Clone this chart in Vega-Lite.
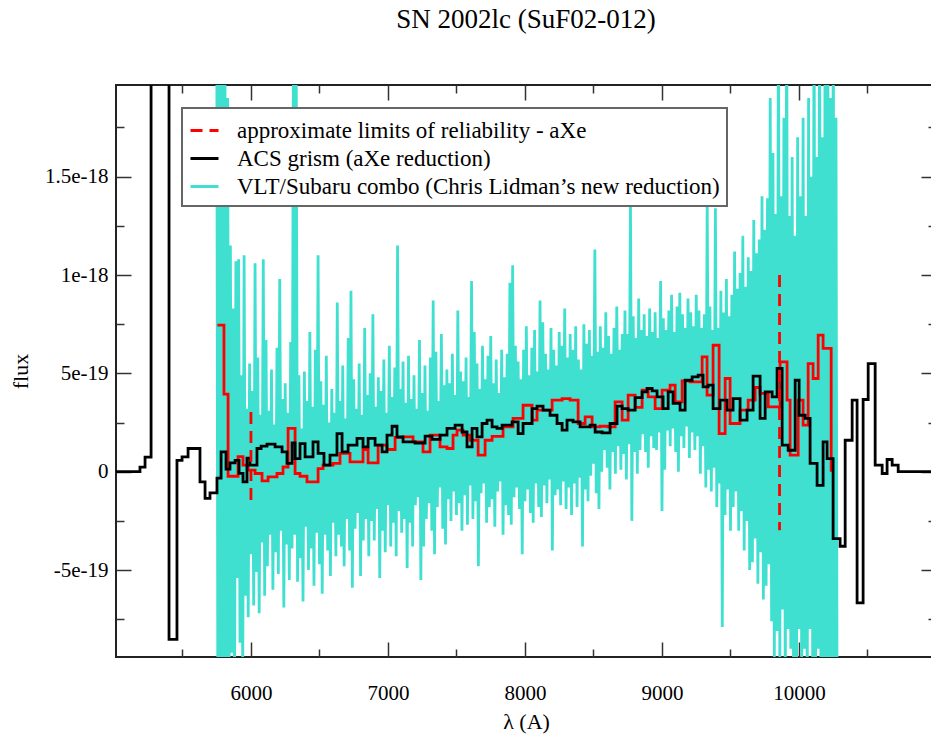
{
"$schema":"https://vega.github.io/schema/vega-lite/v6.json",
"width":820,"height":572,
"autosize":"none",
"padding":{"left":116,"top":85,"right":0,"bottom":79},
"background":"white",
"title":{"text":"SN 2002lc (SuF02-012)","font":"Liberation Serif","fontSize":27,"fontWeight":"normal","color":"black","anchor":"middle","frame":"group","offset":50},
"config":{"view":{"stroke":"#222","strokeWidth":2},"font":"Liberation Serif",
"legend":{"strokeWidth":2}},
"resolve":{"axis":{"x":"independent","y":"independent"}},
"datasets":{
"lim":[{"w":6000,"f1":3.03e-19,"f2":-1.45e-19},{"w":9858,"f1":1.0e-18,"f2":-2.98e-19}],
"red":[{"w":5755,"f":7.45e-19},{"w":5803,"f":3.94e-19},{"w":5833,"f":-0.23e-19},{"w":5906,"f":0.77e-19},{"w":5942,"f":0.33e-19},{"w":5979,"f":0.08e-19},{"w":6030,"f":-0.09e-19},{"w":6081,"f":-0.47e-19},{"w":6125,"f":-0.26e-19},{"w":6190,"f":-0.09e-19},{"w":6234,"f":0.24e-19},{"w":6271,"f":2.2e-19},{"w":6322,"f":-0.09e-19},{"w":6358,"f":-0.23e-19},{"w":6409,"f":-0.52e-19},{"w":6490,"f":0.16e-19},{"w":6526,"f":0.33e-19},{"w":6599,"f":0.42e-19},{"w":6650,"f":0.93e-19},{"w":6723,"f":0.5e-19},{"w":6818,"f":1.13e-19},{"w":6855,"f":0.45e-19},{"w":6928,"f":1.35e-19},{"w":6993,"f":1.13e-19},{"w":7052,"f":1.74e-19},{"w":7110,"f":1.77e-19},{"w":7183,"f":1.52e-19},{"w":7256,"f":1.01e-19},{"w":7307,"f":1.86e-19},{"w":7380,"f":1.26e-19},{"w":7431,"f":1.18e-19},{"w":7475,"f":1.86e-19},{"w":7504,"f":2.11e-19},{"w":7548,"f":1.86e-19},{"w":7599,"f":1.6e-19},{"w":7658,"f":0.84e-19},{"w":7709,"f":1.6e-19},{"w":7760,"f":1.8e-19},{"w":7840,"f":2.28e-19},{"w":7913,"f":2.71e-19},{"w":7986,"f":3.38e-19},{"w":8052,"f":2.62e-19},{"w":8088,"f":3.13e-19},{"w":8198,"f":3.64e-19},{"w":8271,"f":3.72e-19},{"w":8329,"f":3.64e-19},{"w":8388,"f":2.45e-19},{"w":8439,"f":2.79e-19},{"w":8490,"f":2.28e-19},{"w":8548,"f":2.31e-19},{"w":8607,"f":2.28e-19},{"w":8658,"f":3.55e-19},{"w":8709,"f":2.62e-19},{"w":8753,"f":3.89e-19},{"w":8804,"f":3.27e-19},{"w":8855,"f":4.15e-19},{"w":8899,"f":3.8e-19},{"w":8950,"f":3.21e-19},{"w":9001,"f":4.15e-19},{"w":9059,"f":4.4e-19},{"w":9096,"f":3.55e-19},{"w":9147,"f":4.62e-19},{"w":9205,"f":4.57e-19},{"w":9293,"f":5.84e-19},{"w":9329,"f":3.89e-19},{"w":9373,"f":6.43e-19},{"w":9417,"f":1.94e-19},{"w":9461,"f":4.74e-19},{"w":9497,"f":2.45e-19},{"w":9570,"f":3.13e-19},{"w":9629,"f":3.64e-19},{"w":9680,"f":4.28e-19},{"w":9716,"f":3.98e-19},{"w":9775,"f":3.3e-19},{"w":9862,"f":5.58e-19},{"w":9913,"f":3.64e-19},{"w":9935,"f":0.84e-19},{"w":9994,"f":3.64e-19},{"w":10030,"f":2.37e-19},{"w":10067,"f":5.5e-19},{"w":10103,"f":4.74e-19},{"w":10140,"f":6.94e-19},{"w":10176,"f":6.27e-19},{"w":10235,"f":0}],
"acs":[{"w":5000,"f":0},{"w":5190,"f":0.23e-19},{"w":5227,"f":0.74e-19},{"w":5271,"f":30e-19},{"w":5402,"f":-8.52e-19},{"w":5460,"f":0.58e-19},{"w":5497,"f":0.75e-19},{"w":5541,"f":1.18e-19},{"w":5628,"f":-0.52e-19},{"w":5665,"f":-1.36e-19},{"w":5701,"f":-1.08e-19},{"w":5752,"f":-0.33e-19},{"w":5782,"f":1.01e-19},{"w":5818,"f":0.13e-19},{"w":5847,"f":0.45e-19},{"w":5884,"f":0.58e-19},{"w":5913,"f":-0.08e-19},{"w":5942,"f":-0.52e-19},{"w":5971,"f":0.69e-19},{"w":5993,"f":0.33e-19},{"w":6044,"f":1.18e-19},{"w":6074,"f":1.3e-19},{"w":6117,"f":1.4e-19},{"w":6176,"f":1.26e-19},{"w":6227,"f":1.01e-19},{"w":6263,"f":0.42e-19},{"w":6300,"f":1.46e-19},{"w":6322,"f":0.67e-19},{"w":6358,"f":1.43e-19},{"w":6395,"f":0.75e-19},{"w":6453,"f":1.52e-19},{"w":6490,"f":0.93e-19},{"w":6533,"f":0.33e-19},{"w":6577,"f":0.84e-19},{"w":6628,"f":1.94e-19},{"w":6665,"f":1.01e-19},{"w":6709,"f":1.35e-19},{"w":6774,"f":1.69e-19},{"w":6818,"f":1.26e-19},{"w":6855,"f":1.69e-19},{"w":6906,"f":1.35e-19},{"w":6957,"f":1.01e-19},{"w":6993,"f":1.86e-19},{"w":7030,"f":2.31e-19},{"w":7066,"f":1.77e-19},{"w":7110,"f":1.52e-19},{"w":7198,"f":1.46e-19},{"w":7271,"f":1.81e-19},{"w":7322,"f":1.64e-19},{"w":7380,"f":1.86e-19},{"w":7431,"f":2.2e-19},{"w":7490,"f":2.37e-19},{"w":7541,"f":2.02e-19},{"w":7577,"f":1.26e-19},{"w":7614,"f":2.2e-19},{"w":7650,"f":1.77e-19},{"w":7687,"f":2.45e-19},{"w":7723,"f":2.62e-19},{"w":7760,"f":2.28e-19},{"w":7796,"f":2.2e-19},{"w":7833,"f":2.37e-19},{"w":7906,"f":2.53e-19},{"w":7950,"f":1.94e-19},{"w":7986,"f":2.45e-19},{"w":8052,"f":3.21e-19},{"w":8088,"f":3.33e-19},{"w":8132,"f":3.13e-19},{"w":8183,"f":2.87e-19},{"w":8234,"f":2.45e-19},{"w":8271,"f":2.11e-19},{"w":8307,"f":2.62e-19},{"w":8351,"f":2.53e-19},{"w":8402,"f":2.28e-19},{"w":8475,"f":2.37e-19},{"w":8512,"f":2.02e-19},{"w":8563,"f":1.97e-19},{"w":8621,"f":2.45e-19},{"w":8672,"f":3.33e-19},{"w":8709,"f":3.21e-19},{"w":8753,"f":3.13e-19},{"w":8804,"f":3.77e-19},{"w":8855,"f":4.06e-19},{"w":8891,"f":4.23e-19},{"w":8928,"f":4.11e-19},{"w":8964,"f":3.8e-19},{"w":9008,"f":3.21e-19},{"w":9045,"f":4.06e-19},{"w":9081,"f":3.47e-19},{"w":9132,"f":3.13e-19},{"w":9169,"f":4.65e-19},{"w":9220,"f":4.82e-19},{"w":9264,"f":4.91e-19},{"w":9300,"f":4.31e-19},{"w":9337,"f":4.4e-19},{"w":9373,"f":3.21e-19},{"w":9424,"f":3.64e-19},{"w":9475,"f":3.13e-19},{"w":9519,"f":3.72e-19},{"w":9570,"f":2.62e-19},{"w":9621,"f":3.13e-19},{"w":9665,"f":4.86e-19},{"w":9716,"f":2.71e-19},{"w":9753,"f":4.06e-19},{"w":9804,"f":3.8e-19},{"w":9840,"f":5.25e-19},{"w":9877,"f":1.35e-19},{"w":9921,"f":1.09e-19},{"w":9972,"f":4.65e-19},{"w":10001,"f":2.87e-19},{"w":10045,"f":2.71e-19},{"w":10081,"f":0.42e-19},{"w":10132,"f":-0.69e-19},{"w":10176,"f":1.52e-19},{"w":10205,"f":0.67e-19},{"w":10249,"f":-3.4e-19},{"w":10300,"f":-3.79e-19},{"w":10337,"f":1.6e-19},{"w":10388,"f":3.64e-19},{"w":10424,"f":-6.67e-19},{"w":10468,"f":3.67e-19},{"w":10505,"f":5.5e-19},{"w":10556,"f":0.33e-19},{"w":10607,"f":-0.09e-19},{"w":10643,"f":0.62e-19},{"w":10680,"f":0.33e-19},{"w":10724,"f":0},{"w":11000,"f":0}],
"vlt":[
{"w":5750,"f":25e-19},{"w":5760,"f":-20e-19},{"w":5770,"f":22e-19},{"w":5780,"f":-18e-19},{"w":5790,"f":24e-19},{"w":5800,"f":-15e-19},{"w":5810,"f":21e-19},{"w":5820,"f":-12e-19},{"w":5830,"f":19e-19},{"w":5840,"f":-13e-19},
{"w":5850,"f":11.5e-19},{"w":5860,"f":-9.2e-19},{"w":5870,"f":8.3e-19},{"w":5880,"f":-12e-19},{"w":5890,"f":10.7e-19},{"w":5900,"f":-5.4e-19},{"w":5910,"f":10.8e-19},{"w":5920,"f":-8.7e-19},{"w":5930,"f":4.9e-19},{"w":5940,"f":-10.5e-19},
{"w":5950,"f":11e-19},{"w":5960,"f":-6.3e-19},{"w":5970,"f":3.2e-19},{"w":5980,"f":-7.4e-19},{"w":5990,"f":5.5e-19},{"w":6000,"f":-4.2e-19},{"w":6010,"f":4.1e-19},{"w":6020,"f":-6.8e-19},{"w":6030,"f":10.6e-19},{"w":6040,"f":-5.1e-19},
{"w":6050,"f":5.8e-19},{"w":6060,"f":-7.2e-19},{"w":6070,"f":2.9e-19},{"w":6080,"f":-3.6e-19},{"w":6090,"f":10.8e-19},{"w":6100,"f":-6.3e-19},{"w":6110,"f":6.7e-19},{"w":6120,"f":-4.8e-19},{"w":6130,"f":3.1e-19},{"w":6140,"f":-3.2e-19},
{"w":6150,"f":5.2e-19},{"w":6160,"f":-6.0e-19},{"w":6170,"f":2.4e-19},{"w":6180,"f":-4.1e-19},{"w":6190,"f":6.3e-19},{"w":6200,"f":-5.2e-19},{"w":6210,"f":9.8e-19},{"w":6220,"f":-3.0e-19},{"w":6230,"f":3.7e-19},{"w":6240,"f":-6.9e-19},
{"w":6250,"f":4.5e-19},{"w":6260,"f":-3.7e-19},{"w":6270,"f":3.0e-19},{"w":6280,"f":-5.5e-19},{"w":6290,"f":6.6e-19},{"w":6300,"f":-3.9e-19},{"w":6310,"f":22e-19},{"w":6320,"f":-3.2e-19},{"w":6330,"f":22e-19},{"w":6340,"f":-5.6e-19},
{"w":6350,"f":4.9e-19},{"w":6360,"f":-4.4e-19},{"w":6370,"f":2.2e-19},{"w":6380,"f":-6.6e-19},{"w":6390,"f":5.1e-19},{"w":6400,"f":-2.8e-19},{"w":6410,"f":3.6e-19},{"w":6420,"f":-5.0e-19},{"w":6430,"f":7.1e-19},{"w":6440,"f":-3.9e-19},
{"w":6450,"f":3.3e-19},{"w":6460,"f":-5.8e-19},{"w":6470,"f":6.2e-19},{"w":6480,"f":-3.1e-19},{"w":6490,"f":11e-19},{"w":6500,"f":-4.7e-19},{"w":6510,"f":4.6e-19},{"w":6520,"f":-6.2e-19},{"w":6530,"f":3.4e-19},{"w":6540,"f":-3.2e-19},
{"w":6550,"f":5.9e-19},{"w":6560,"f":-4.0e-19},{"w":6570,"f":2.5e-19},{"w":6580,"f":-5.3e-19},{"w":6590,"f":4.2e-19},{"w":6600,"f":-2.6e-19},{"w":6610,"f":3.0e-19},{"w":6620,"f":-4.3e-19},{"w":6630,"f":8.6e-19},{"w":6640,"f":-3.2e-19},
{"w":6650,"f":3.6e-19},{"w":6660,"f":-3.8e-19},{"w":6670,"f":5.4e-19},{"w":6680,"f":-4.8e-19},{"w":6690,"f":2.7e-19},{"w":6700,"f":-2.4e-19},{"w":6710,"f":6.8e-19},{"w":6720,"f":-4.0e-19},{"w":6730,"f":9.2e-19},{"w":6740,"f":-5.9e-19},
{"w":6750,"f":4.7e-19},{"w":6760,"f":-2.9e-19},{"w":6770,"f":3.2e-19},{"w":6780,"f":-2.1e-19},{"w":6790,"f":5.5e-19},{"w":6800,"f":-5.3e-19},{"w":6810,"f":2.9e-19},{"w":6820,"f":-3.5e-19},{"w":6830,"f":7.3e-19},{"w":6840,"f":-2.4e-19},
{"w":6850,"f":3.9e-19},{"w":6860,"f":-4.3e-19},{"w":6870,"f":5.0e-19},{"w":6880,"f":-2.5e-19},{"w":6890,"f":8.0e-19},{"w":6900,"f":-3.5e-19},{"w":6910,"f":3.3e-19},{"w":6920,"f":-1.9e-19},{"w":6930,"f":4.8e-19},{"w":6940,"f":-5.4e-19},
{"w":6950,"f":4.1e-19},{"w":6960,"f":-3.0e-19},{"w":6970,"f":5.7e-19},{"w":6980,"f":-4.1e-19},{"w":6990,"f":3.0e-19},{"w":7000,"f":-1.7e-19},{"w":7010,"f":6.4e-19},{"w":7020,"f":-3.8e-19},{"w":7030,"f":3.8e-19},{"w":7040,"f":-2.6e-19},
{"w":7050,"f":5.3e-19},{"w":7060,"f":-4.3e-19},{"w":7070,"f":11.5e-19},{"w":7080,"f":-2.0e-19},{"w":7090,"f":4.2e-19},{"w":7100,"f":-3.1e-19},{"w":7110,"f":5.6e-19},{"w":7120,"f":-2.4e-19},{"w":7130,"f":3.5e-19},{"w":7140,"f":-4.9e-19},
{"w":7150,"f":5.9e-19},{"w":7160,"f":-2.6e-19},{"w":7170,"f":3.7e-19},{"w":7180,"f":-3.8e-19},{"w":7190,"f":4.9e-19},{"w":7200,"f":-1.7e-19},{"w":7210,"f":3.2e-19},{"w":7220,"f":-1.3e-19},{"w":7230,"f":6.7e-19},{"w":7240,"f":-5.5e-19},
{"w":7250,"f":4.0e-19},{"w":7260,"f":-3.8e-19},{"w":7270,"f":5.4e-19},{"w":7280,"f":-2.4e-19},{"w":7290,"f":3.1e-19},{"w":7300,"f":-1.6e-19},{"w":7310,"f":5.8e-19},{"w":7320,"f":-3.0e-19},{"w":7330,"f":8.7e-19},{"w":7340,"f":-4.2e-19},
{"w":7350,"f":6.1e-19},{"w":7360,"f":-1.8e-19},{"w":7370,"f":3.6e-19},{"w":7380,"f":-0.8e-19},{"w":7390,"f":7.0e-19},{"w":7400,"f":-2.9e-19},{"w":7410,"f":4.4e-19},{"w":7420,"f":-3.7e-19},{"w":7430,"f":5.2e-19},{"w":7440,"f":-1.4e-19},
{"w":7450,"f":4.5e-19},{"w":7460,"f":-2.5e-19},{"w":7470,"f":6.0e-19},{"w":7480,"f":-1.0e-19},{"w":7490,"f":3.9e-19},{"w":7500,"f":-2.2e-19},{"w":7510,"f":8.2e-19},{"w":7520,"f":-1.6e-19},{"w":7530,"f":5.1e-19},{"w":7540,"f":-3.0e-19},
{"w":7550,"f":4.6e-19},{"w":7560,"f":-1.2e-19},{"w":7570,"f":5.8e-19},{"w":7580,"f":-2.7e-19},{"w":7590,"f":3.8e-19},{"w":7600,"f":-0.7e-19},{"w":7610,"f":9.7e-19},{"w":7620,"f":-2.4e-19},{"w":7630,"f":7.1e-19},{"w":7640,"f":-1.5e-19},
{"w":7650,"f":5.5e-19},{"w":7660,"f":-4.8e-19},{"w":7670,"f":4.2e-19},{"w":7680,"f":-1.1e-19},{"w":7690,"f":6.4e-19},{"w":7700,"f":-0.6e-19},{"w":7710,"f":4.7e-19},{"w":7720,"f":-2.6e-19},{"w":7730,"f":5.9e-19},{"w":7740,"f":-1.8e-19},
{"w":7750,"f":6.9e-19},{"w":7760,"f":-1.4e-19},{"w":7770,"f":4.5e-19},{"w":7780,"f":-2.8e-19},{"w":7790,"f":5.7e-19},{"w":7800,"f":-1.0e-19},{"w":7810,"f":4.0e-19},{"w":7820,"f":-0.5e-19},{"w":7830,"f":6.2e-19},{"w":7840,"f":-3.2e-19},
{"w":7850,"f":4.8e-19},{"w":7860,"f":-1.7e-19},{"w":7870,"f":6.0e-19},{"w":7880,"f":-2.2e-19},{"w":7890,"f":9.6e-19},{"w":7900,"f":-2.7e-19},{"w":7910,"f":10.5e-19},{"w":7920,"f":-1.3e-19},{"w":7930,"f":6.4e-19},{"w":7940,"f":-0.8e-19},
{"w":7950,"f":5.6e-19},{"w":7960,"f":-1.9e-19},{"w":7970,"f":4.7e-19},{"w":7980,"f":-4.2e-19},{"w":7990,"f":6.2e-19},{"w":8000,"f":-1.5e-19},{"w":8010,"f":7.4e-19},{"w":8020,"f":-0.9e-19},{"w":8030,"f":4.9e-19},{"w":8040,"f":-2.1e-19},
{"w":8050,"f":6.3e-19},{"w":8060,"f":-2.6e-19},{"w":8070,"f":7.2e-19},{"w":8080,"f":-0.6e-19},{"w":8090,"f":5.1e-19},{"w":8100,"f":-1.8e-19},{"w":8110,"f":8.7e-19},{"w":8120,"f":-2.3e-19},{"w":8130,"f":7.6e-19},{"w":8140,"f":-0.7e-19},
{"w":8150,"f":6.0e-19},{"w":8160,"f":-1.6e-19},{"w":8170,"f":5.2e-19},{"w":8180,"f":-0.4e-19},{"w":8190,"f":7.3e-19},{"w":8200,"f":-4.0e-19},{"w":8210,"f":6.2e-19},{"w":8220,"f":-1.2e-19},{"w":8230,"f":5.4e-19},{"w":8240,"f":-0.9e-19},
{"w":8250,"f":7.1e-19},{"w":8260,"f":-1.7e-19},{"w":8270,"f":6.4e-19},{"w":8280,"f":-0.5e-19},{"w":8290,"f":8.3e-19},{"w":8300,"f":-1.9e-19},{"w":8310,"f":5.8e-19},{"w":8320,"f":-0.8e-19},{"w":8330,"f":7.0e-19},{"w":8340,"f":-2.2e-19},
{"w":8350,"f":6.2e-19},{"w":8360,"f":-0.6e-19},{"w":8370,"f":7.4e-19},{"w":8380,"f":-1.8e-19},{"w":8390,"f":5.7e-19},{"w":8400,"f":-0.3e-19},{"w":8410,"f":5.2e-19},{"w":8420,"f":-3.8e-19},{"w":8430,"f":7.5e-19},{"w":8440,"f":-0.9e-19},
{"w":8450,"f":6.5e-19},{"w":8460,"f":-1.5e-19},{"w":8470,"f":7.2e-19},{"w":8480,"f":-0.2e-19},{"w":8490,"f":5.9e-19},{"w":8500,"f":0.4e-19},{"w":8510,"f":11.3e-19},{"w":8520,"f":-1.1e-19},{"w":8530,"f":6.1e-19},{"w":8540,"f":-1.9e-19},
{"w":8550,"f":7.4e-19},{"w":8560,"f":0},{"w":8570,"f":6.3e-19},{"w":8580,"f":1.1e-19},{"w":8590,"f":8.1e-19},{"w":8600,"f":0.2e-19},{"w":8610,"f":6.9e-19},{"w":8620,"f":-0.9e-19},{"w":8630,"f":6.0e-19},{"w":8640,"f":1.0e-19},
{"w":8650,"f":7.3e-19},{"w":8660,"f":-0.1e-19},{"w":8670,"f":8.4e-19},{"w":8680,"f":1.3e-19},{"w":8690,"f":6.2e-19},{"w":8700,"f":0.1e-19},{"w":8710,"f":7.0e-19},{"w":8720,"f":0.9e-19},{"w":8730,"f":8.2e-19},{"w":8740,"f":-0.4e-19},
{"w":8750,"f":7.0e-19},{"w":8760,"f":1.4e-19},{"w":8770,"f":13.8e-19},{"w":8780,"f":-2.5e-19},{"w":8790,"f":7.9e-19},{"w":8800,"f":1.0e-19},{"w":8810,"f":6.8e-19},{"w":8820,"f":-0.1e-19},{"w":8830,"f":8.8e-19},{"w":8840,"f":1.1e-19},
{"w":8850,"f":7.2e-19},{"w":8860,"f":1.9e-19},{"w":8870,"f":8.0e-19},{"w":8880,"f":1.0e-19},{"w":8890,"f":6.9e-19},{"w":8900,"f":0.2e-19},{"w":8910,"f":8.3e-19},{"w":8920,"f":1.8e-19},{"w":8930,"f":7.1e-19},{"w":8940,"f":1.2e-19},
{"w":8950,"f":8.1e-19},{"w":8960,"f":1.1e-19},{"w":8970,"f":6.8e-19},{"w":8980,"f":2.0e-19},{"w":8990,"f":9.7e-19},{"w":9000,"f":-2.0e-19},{"w":9010,"f":7.8e-19},{"w":9020,"f":0.1e-19},{"w":9030,"f":7.2e-19},{"w":9040,"f":2.1e-19},
{"w":9050,"f":8.2e-19},{"w":9060,"f":1.3e-19},{"w":9070,"f":9.0e-19},{"w":9080,"f":2.2e-19},{"w":9090,"f":7.1e-19},{"w":9100,"f":1.0e-19},{"w":9110,"f":8.4e-19},{"w":9120,"f":0},{"w":9130,"f":9.1e-19},{"w":9140,"f":1.8e-19},
{"w":9150,"f":8.0e-19},{"w":9160,"f":1.2e-19},{"w":9170,"f":7.3e-19},{"w":9180,"f":2.3e-19},{"w":9190,"f":8.8e-19},{"w":9200,"f":0.7e-19},{"w":9210,"f":8.1e-19},{"w":9220,"f":2.0e-19},{"w":9230,"f":7.4e-19},{"w":9240,"f":1.1e-19},
{"w":9250,"f":9.0e-19},{"w":9260,"f":1.8e-19},{"w":9270,"f":8.2e-19},{"w":9280,"f":-0.1e-19},{"w":9290,"f":7.3e-19},{"w":9300,"f":1.3e-19},{"w":9310,"f":8.0e-19},{"w":9320,"f":-0.8e-19},{"w":9330,"f":13.8e-19},{"w":9340,"f":0.1e-19},
{"w":9350,"f":8.4e-19},{"w":9360,"f":-1.0e-19},{"w":9370,"f":7.2e-19},{"w":9380,"f":0.2e-19},{"w":9390,"f":13.4e-19},{"w":9400,"f":-1.8e-19},{"w":9410,"f":7.3e-19},{"w":9420,"f":-0.6e-19},{"w":9430,"f":9.2e-19},{"w":9440,"f":-7.9e-19},
{"w":9450,"f":8.1e-19},{"w":9460,"f":-2.2e-19},{"w":9470,"f":9.8e-19},{"w":9480,"f":-0.9e-19},{"w":9490,"f":7.9e-19},{"w":9500,"f":-3.0e-19},{"w":9510,"f":9.0e-19},{"w":9520,"f":-1.8e-19},{"w":9530,"f":11.2e-19},{"w":9540,"f":-1.0e-19},
{"w":9550,"f":9.3e-19},{"w":9560,"f":-3.0e-19},{"w":9570,"f":10.1e-19},{"w":9580,"f":-2.0e-19},{"w":9590,"f":12.0e-19},{"w":9600,"f":-4.0e-19},{"w":9610,"f":9.4e-19},{"w":9620,"f":-2.5e-19},{"w":9630,"f":10.9e-19},{"w":9640,"f":-5.0e-19},
{"w":9650,"f":10.2e-19},{"w":9660,"f":-4.6e-19},{"w":9670,"f":12.8e-19},{"w":9680,"f":-3.4e-19},{"w":9690,"f":11.1e-19},{"w":9700,"f":-5.7e-19},{"w":9710,"f":11.8e-19},{"w":9720,"f":-4.1e-19},{"w":9730,"f":14.0e-19},{"w":9740,"f":-6.5e-19},
{"w":9750,"f":12.3e-19},{"w":9760,"f":-5.8e-19},{"w":9770,"f":13.9e-19},{"w":9780,"f":-4.7e-19},{"w":9790,"f":19e-19},{"w":9800,"f":-7.6e-19},{"w":9810,"f":16.2e-19},{"w":9820,"f":-9.5e-19},{"w":9830,"f":13.1e-19},{"w":9840,"f":-8.1e-19},
{"w":9850,"f":25e-19},{"w":9860,"f":-10e-19},{"w":9870,"f":14e-19},{"w":9880,"f":-7e-19},{"w":9890,"f":18e-19},{"w":9900,"f":-12e-19},{"w":9910,"f":25e-19},{"w":9920,"f":-8e-19},{"w":9930,"f":13e-19},{"w":9940,"f":-9e-19},
{"w":9950,"f":16e-19},{"w":9960,"f":-10e-19},{"w":9970,"f":12e-19},{"w":9980,"f":-20e-19},{"w":9990,"f":17e-19},{"w":10000,"f":-8e-19},{"w":10010,"f":14e-19},{"w":10020,"f":-11e-19},{"w":10030,"f":18e-19},{"w":10040,"f":-9e-19},
{"w":10050,"f":13e-19},{"w":10060,"f":-12e-19},{"w":10070,"f":19e-19},{"w":10080,"f":-8e-19},{"w":10090,"f":15e-19},{"w":10100,"f":-10e-19},{"w":10110,"f":25e-19},{"w":10120,"f":-13e-19},{"w":10130,"f":16e-19},{"w":10140,"f":-9e-19},
{"w":10150,"f":25e-19},{"w":10160,"f":-11e-19},{"w":10170,"f":17e-19},{"w":10180,"f":-20e-19},{"w":10190,"f":22e-19},{"w":10200,"f":-12e-19},{"w":10210,"f":25e-19},{"w":10220,"f":-14e-19},{"w":10230,"f":19e-19},{"w":10240,"f":-20e-19},
{"w":10250,"f":25e-19},{"w":10260,"f":-13e-19},{"w":10270,"f":18e-19},{"w":10280,"f":-20e-19}
]
},
"layer":[
{"data":{"name":"vlt"},
 "mark":{"type":"line","clip":true},
 "encoding":{
  "x":{"field":"w","type":"quantitative","scale":{"domain":[5015,11000],"nice":false,"zero":false},
   "axis":{"orient":"bottom","values":[6000,7000,8000,9000,10000],"format":"d","title":"λ (A)","titleFont":"Liberation Serif","titleFontSize":22,"titleFontWeight":"normal","titleColor":"black","titlePadding":8,"labelFont":"Liberation Serif","labelFontSize":21,"labelColor":"black","labelPadding":40,"tickSize":-15,"tickColor":"#333","tickWidth":1.5,"domain":false,"grid":false,"labelFlush":false,"labelOverlap":false}},
  "y":{"field":"f","type":"quantitative","scale":{"domain":[-9.42e-19,1.966e-18],"nice":false,"zero":false},
   "axis":{"orient":"left","values":[-5e-19,0,5e-19,1e-18,1.5e-18],"labelExpr":"datum.value == 0 ? '0' : datum.value > 1.2e-18 ? '1.5e-18' : datum.value > 7e-19 ? '1e-18' : datum.value > 2e-19 ? '5e-19' : '-5e-19'","title":"flux","titleFont":"Liberation Serif","titleFontSize":22,"titleFontWeight":"normal","titleColor":"black","titlePadding":12,"labelFont":"Liberation Serif","labelFontSize":21,"labelColor":"black","labelPadding":23,"tickSize":-15,"tickColor":"#333","tickWidth":1.5,"domain":false,"grid":false,"labelFlush":false,"labelOverlap":false}},
  "color":{"datum":"VLT/Subaru combo (Chris Lidman’s new reduction)","type":"nominal","scale":{"domain":["approximate limits of reliability - aXe","ACS grism (aXe reduction)","VLT/Subaru combo (Chris Lidman’s new reduction)"],"range":["#ff0000","#000000","#40e0d0"]},
   "legend":{"title":null,"orient":"none","legendX":66,"legendY":23,"direction":"vertical","fillColor":"white","strokeColor":"#666","padding":7,"labelFont":"Liberation Serif","labelFontSize":23,"labelColor":"black","labelLimit":0,"symbolSize":784,"symbolType":"stroke","labelOffset":17,"rowPadding":0}},
  "strokeDash":{"datum":"VLT/Subaru combo (Chris Lidman’s new reduction)","type":"nominal","scale":{"domain":["approximate limits of reliability - aXe","ACS grism (aXe reduction)","VLT/Subaru combo (Chris Lidman’s new reduction)"],"range":[[12,7],[1,0],[1,0]]}},
  "strokeWidth":{"datum":"VLT/Subaru combo (Chris Lidman’s new reduction)","type":"nominal","scale":{"domain":["approximate limits of reliability - aXe","ACS grism (aXe reduction)","VLT/Subaru combo (Chris Lidman’s new reduction)"],"range":[2.8,2.8,1]}}
 }},
{"data":{"name":"red"},
 "mark":{"type":"line","interpolate":"step-after","color":"#ff0000","strokeWidth":2.8,"clip":true},
 "encoding":{
  "x":{"field":"w","type":"quantitative","scale":{"domain":[5015,11000],"nice":false,"zero":false},
   "axis":{"orient":"bottom","values":[5500,6500,7500,8500,9500,10500],"labels":false,"title":null,"tickSize":-8,"tickColor":"#333","tickWidth":1.5,"domain":false,"grid":false}},
  "y":{"field":"f","type":"quantitative","scale":{"domain":[-9.42e-19,1.966e-18],"nice":false,"zero":false},
   "axis":{"orient":"left","values":[-7.5e-19,-2.5e-19,2.5e-19,7.5e-19,1.25e-18,1.75e-18],"labels":false,"title":null,"tickSize":-8,"tickColor":"#333","tickWidth":1.5,"domain":false,"grid":false}}
 }},
{"data":{"name":"acs"},
 "mark":{"type":"line","interpolate":"step-after","clip":true},
 "encoding":{
  "x":{"field":"w","type":"quantitative","scale":{"domain":[5015,11000],"nice":false,"zero":false},
   "axis":{"orient":"top","values":[6000,7000,8000,9000,10000],"labels":false,"title":null,"tickSize":-15,"tickColor":"#333","tickWidth":1.5,"domain":false,"grid":false}},
  "y":{"field":"f","type":"quantitative","scale":{"domain":[-9.42e-19,1.966e-18],"nice":false,"zero":false},
   "axis":{"orient":"right","values":[-5e-19,0,5e-19,1e-18,1.5e-18],"labels":false,"title":null,"tickSize":-15,"tickColor":"#333","tickWidth":1.5,"domain":false,"grid":false}},
  "color":{"datum":"ACS grism (aXe reduction)","type":"nominal","scale":{"domain":["approximate limits of reliability - aXe","ACS grism (aXe reduction)","VLT/Subaru combo (Chris Lidman’s new reduction)"],"range":["#ff0000","#000000","#40e0d0"]}},
  "strokeDash":{"datum":"ACS grism (aXe reduction)","type":"nominal","scale":{"domain":["approximate limits of reliability - aXe","ACS grism (aXe reduction)","VLT/Subaru combo (Chris Lidman’s new reduction)"],"range":[[12,7],[1,0],[1,0]]}},
  "strokeWidth":{"datum":"ACS grism (aXe reduction)","type":"nominal","scale":{"domain":["approximate limits of reliability - aXe","ACS grism (aXe reduction)","VLT/Subaru combo (Chris Lidman’s new reduction)"],"range":[2.8,2.8,1]}}
 }},
{"data":{"name":"lim"},
 "mark":{"type":"rule","clip":true},
 "encoding":{
  "x":{"field":"w","type":"quantitative","scale":{"domain":[5015,11000],"nice":false,"zero":false},
   "axis":{"orient":"top","values":[5500,6500,7500,8500,9500,10500],"labels":false,"title":null,"tickSize":-8,"tickColor":"#333","tickWidth":1.5,"domain":false,"grid":false}},
  "y":{"field":"f1","type":"quantitative","scale":{"domain":[-9.42e-19,1.966e-18],"nice":false,"zero":false},
   "axis":{"orient":"right","values":[-7.5e-19,-2.5e-19,2.5e-19,7.5e-19,1.25e-18,1.75e-18],"labels":false,"title":null,"tickSize":-8,"tickColor":"#333","tickWidth":1.5,"domain":false,"grid":false}},
  "y2":{"field":"f2"},
  "color":{"datum":"approximate limits of reliability - aXe","type":"nominal","scale":{"domain":["approximate limits of reliability - aXe","ACS grism (aXe reduction)","VLT/Subaru combo (Chris Lidman’s new reduction)"],"range":["#ff0000","#000000","#40e0d0"]}},
  "strokeDash":{"datum":"approximate limits of reliability - aXe","type":"nominal","scale":{"domain":["approximate limits of reliability - aXe","ACS grism (aXe reduction)","VLT/Subaru combo (Chris Lidman’s new reduction)"],"range":[[12,7],[1,0],[1,0]]}},
  "strokeWidth":{"datum":"approximate limits of reliability - aXe","type":"nominal","scale":{"domain":["approximate limits of reliability - aXe","ACS grism (aXe reduction)","VLT/Subaru combo (Chris Lidman’s new reduction)"],"range":[2.8,2.8,1]}}
 }}
]
}
